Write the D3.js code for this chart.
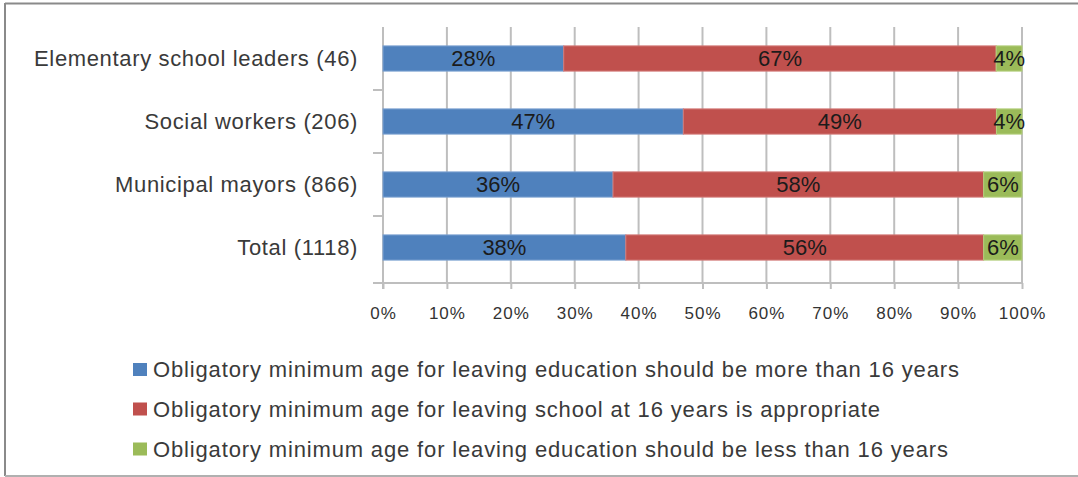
<!DOCTYPE html>
<html>
<head>
<meta charset="utf-8">
<script src="https://cdn.jsdelivr.net/npm/d3@7"></script>
<style>
  html, body { margin: 0; padding: 0; background: #fff; }
  svg { display: block; }
  text { font-family: "Liberation Sans", Arial, sans-serif; }
</style>
</head>
<body>
<svg id="chart" width="1078" height="477"></svg>
<script>
// Survey groups (respondent counts in brackets)
const categories = [
  "Elementary school leaders (46)",
  "Social workers (206)",
  "Municipal mayors (866)",
  "Total (1118)"
];

// Share of answers per group, in percent
const moreThan16 = [28, 47, 36, 38];
const at16 = [67, 49, 58, 56];
const lessThan16 = [4, 4, 6, 6];

const seriesNames = [
  "Obligatory minimum age for leaving education should be more than 16 years",
  "Obligatory minimum age for leaving school at 16 years is appropriate",
  "Obligatory minimum age for leaving education should be less than 16 years"
];
const seriesColors = ["#4f81bd", "#c0504d", "#9bbb59"];
const seriesStrokes = ["#7ea3d3", "#d27a78", "#b3cf7d"];

const xTicks = [0, 0.1, 0.2, 0.3, 0.4, 0.5, 0.6, 0.7, 0.8, 0.9, 1];

const svg = d3.select("#chart");

// Outer chart frame
svg.append("line").attr("x1", 5).attr("y1", 3.5).attr("x2", 1078).attr("y2", 3.5)
  .attr("stroke", "#8a8a8a").attr("stroke-width", 2);
svg.append("line").attr("x1", 5).attr("y1", 3).attr("x2", 5).attr("y2", 476)
  .attr("stroke", "#8a8a8a").attr("stroke-width", 2);
svg.append("line").attr("x1", 5).attr("y1", 476).attr("x2", 1078).attr("y2", 476)
  .attr("stroke", "#b0b0b0").attr("stroke-width", 2);

const plotTop = 27, plotBottom = 283;
const x = d3.scaleLinear().domain([0, 1]).range([383, 1022]);
const y = d3.scaleBand().domain(categories).range([27, 279])
  .paddingInner(0.6).paddingOuter(0.3);

// Rows normalised to 100% as in a percent-stacked chart
const rows = categories.map((c, i) => {
  const vals = [moreThan16[i], at16[i], lessThan16[i]];
  const total = d3.sum(vals);
  let acc = 0;
  return vals.map((v, k) => {
    const seg = { cat: c, k, v, x0: acc / total, x1: (acc + v) / total };
    acc += v;
    return seg;
  });
});

// Vertical gridlines
svg.append("g").selectAll("line").data(xTicks).join("line")
  .attr("x1", d => x(d)).attr("x2", d => x(d))
  .attr("y1", plotTop).attr("y2", plotBottom)
  .attr("stroke", "#bebebe").attr("stroke-width", 2);

// Bottom axis with tick marks
const xAxis = d3.axisBottom(x).tickValues(xTicks)
  .tickFormat(d3.format(".0%")).tickSize(6).tickPadding(18);
const gx = svg.append("g").attr("transform", `translate(0,${plotBottom})`).call(xAxis);
gx.select(".domain").attr("stroke", "#bebebe").attr("stroke-width", 2)
  .attr("d", `M373,0H${x(1)}`);
gx.selectAll(".tick line").attr("stroke", "#bebebe").attr("stroke-width", 2);
gx.selectAll(".tick text").attr("fill", "#333").style("font-size", "17px")
  .style("letter-spacing", "1px");

// Left category axis line and boundary ticks
svg.append("line").attr("x1", x(0)).attr("x2", x(0))
  .attr("y1", plotTop).attr("y2", plotBottom + 6)
  .attr("stroke", "#bebebe").attr("stroke-width", 2);
const bounds = categories.slice(1).map(c => y(c) - y.step() * y.paddingInner() / 2);
bounds.push(plotBottom);
svg.append("g").selectAll("line").data(bounds).join("line")
  .attr("x1", x(0) - 10).attr("x2", x(0))
  .attr("y1", d => d).attr("y2", d => d)
  .attr("stroke", "#bebebe").attr("stroke-width", 2);

// Category labels
svg.append("g").selectAll("text").data(categories).join("text")
  .attr("x", 358).attr("y", d => y(d) + y.bandwidth() / 2)
  .attr("text-anchor", "end").attr("dy", "0.36em")
  .attr("fill", "#3a3a3a").style("font-size", "22px")
  .style("letter-spacing", "0.65px")
  .text(d => d);

// Stacked bars
const barG = svg.append("g");
rows.forEach(segs => {
  barG.selectAll(null).data(segs).join("rect")
    .attr("x", d => x(d.x0)).attr("width", d => x(d.x1) - x(d.x0))
    .attr("y", d => y(d.cat)).attr("height", y.bandwidth())
    .attr("fill", d => seriesColors[d.k])
    .attr("stroke", d => seriesStrokes[d.k]).attr("stroke-width", 1);
});

// Value labels centred in each segment
const labG = svg.append("g");
rows.forEach(segs => {
  labG.selectAll(null).data(segs).join("text")
    .attr("x", d => (x(d.x0) + x(d.x1)) / 2)
    .attr("y", d => y(d.cat) + y.bandwidth() / 2)
    .attr("dy", "0.36em").attr("text-anchor", "middle")
    .attr("fill", "#1b1b1b").style("font-size", "22px")
    .text(d => d.v + "%");
});

// Legend
const legend = svg.append("g");
const legendY = [369.5, 409, 449];
seriesNames.forEach((name, k) => {
  legend.append("rect").attr("x", 133).attr("y", legendY[k] - 6.5)
    .attr("width", 14).attr("height", 13).attr("fill", seriesColors[k]);
  legend.append("text").attr("x", 153).attr("y", legendY[k]).attr("dy", "0.36em")
    .attr("fill", "#3a3a3a").style("font-size", "22px")
    .style("letter-spacing", "0.85px")
    .text(name);
});
</script>
</body>
</html>
